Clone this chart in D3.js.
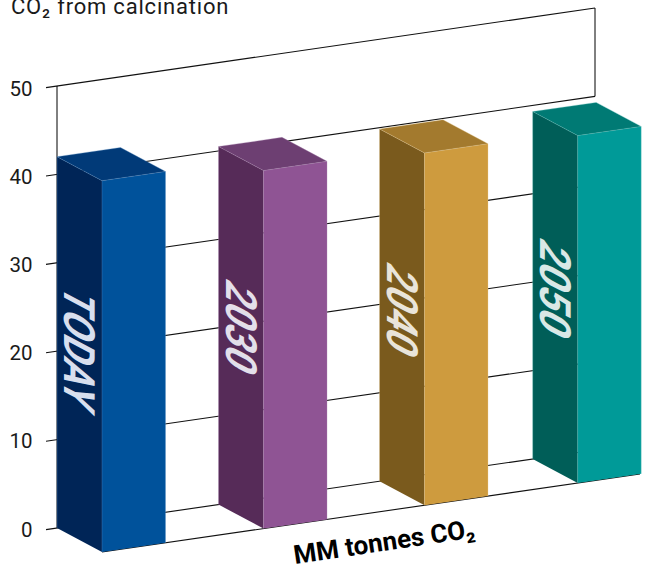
<!DOCTYPE html>
<html><head><meta charset="utf-8">
<script src="https://cdn.jsdelivr.net/npm/d3@7"></script>
<style>html,body{margin:0;background:#fff}svg{display:block}</style></head>
<body><svg id="c" width="645" height="565"></svg>
<script>
const categories = ["TODAY","2030","2040","2050"];
const values = [42.0, 40.5, 39.85, 39.3];
const yTicks = [0,10,20,30,40,50];
const frontColors = ["#00529b","#8f5494","#ce9b3e","#009a98"];
const sideColors = ["#002557","#562b58","#7a5a1d","#005e58"];
const topColors = ["#013a78","#6d3f72","#a37a2e","#007a74"];
const textColors = ["#d8dfee","#e3dfea","#e9e4da","#d9e8e6"];
const edgeColors = ["#5d8fc4","#b08ab5","#e8cd98","#6cc4c0"];
const titleText = "CO₂ from calcination";
const xLabel = "MM tonnes CO₂";

const svg = d3.select("#c");
const font = "'Roboto','DejaVu Sans',sans-serif";
const originX = 57, originY = 528, slope = -0.145, depthX = 45, depthY = 24, wallW = 538, barW = 63.5;
const y = d3.scaleLinear().domain([0,50]).range([0,442]);
const x = d3.scaleOrdinal().domain(categories).range([0,161.5,322.5,475.7]);
// wall coordinate u, depth d (0 back, 1 front), value v -> screen
const P = (u,d,v) => [originX+u+depthX*d, originY+slope*u+depthY*d-y(v)];
const line = pts => "M"+pts.map(p=>p.join(",")).join("L");

// back wall grid
svg.append("g").selectAll("line").data(yTicks).join("line")
  .attr("x1",-11+originX).attr("y1",v=>P(-11,0,v)[1])
  .attr("x2",originX+wallW).attr("y2",v=>P(wallW,0,v)[1])
  .attr("stroke","#111").attr("stroke-width",1.1);
// wall verticals
svg.append("path").attr("d",line([P(0,0,0),P(0,0,50)])).attr("stroke","#000").attr("fill","none").attr("stroke-width",1);
svg.append("path").attr("d",line([P(wallW,0,40),P(wallW,0,50)])).attr("stroke","#000").attr("fill","none").attr("stroke-width",1);
// floor front
svg.append("path").attr("d",line([P(0,1,0),P(wallW,1,0)])).attr("stroke","#111").attr("fill","none").attr("stroke-width",1.1);

// tick labels
const labelScale = d3.scaleLinear().domain([0,50]).range([529.5,88.5]);
const ax = svg.append("g").attr("transform","translate(32.5,0)")
  .call(d3.axisLeft(labelScale).tickValues(yTicks).tickSize(0).tickPadding(0));
ax.select(".domain").remove();
ax.selectAll("text").attr("font-family",font).attr("font-size",20.5).attr("fill","#1a1a1a");

// bars
const bars = svg.append("g").selectAll("g").data(categories).join("g");
bars.append("path").attr("d",(c,i)=>{const u=x(c),v=values[i];return line([P(u,0,0),P(u,1,0),P(u,1,v),P(u,0,v)])+"Z"})
  .attr("fill",(c,i)=>sideColors[i]);
bars.append("path").attr("d",(c,i)=>{const u=x(c),v=values[i];return line([P(u,1,0),P(u+barW,1,0),P(u+barW,1,v),P(u,1,v)])+"Z"})
  .attr("fill",(c,i)=>frontColors[i]);
bars.append("path").attr("d",(c,i)=>{const u=x(c),v=values[i];return line([P(u,0,v),P(u,1,v),P(u+barW,1,v),P(u+barW,0,v)])+"Z"})
  .attr("fill",(c,i)=>topColors[i]);
// thin lighter edges
bars.append("path").attr("d",(c,i)=>{const u=x(c),v=values[i];
  return line([P(u,0,0),P(u,0,v),P(u,1,v),P(u+barW,1,v),P(u+barW,1,0)])+line([P(u,1,v),P(u,1,0)])+line([P(u,0,v),P(u+barW,0,v),P(u+barW,1,v)]);})
  .attr("fill","none").attr("stroke",(c,i)=>edgeColors[i]).attr("stroke-width",0.6).attr("stroke-opacity",0.55);

// labels on side faces
const labelV = [21.5, 21.3, 20.6, 20.5];   // value height where the label is centred
const labelStretch = [0.86, 0.88, 0.87, 0.93];
bars.append("text").text(c=>c)
  .attr("text-anchor","middle")
  .attr("font-family","'Liberation Sans Narrow','Roboto',sans-serif")
  .attr("font-weight",700)
  .attr("font-size",43)
  .attr("fill",(c,i)=>textColors[i])
  .attr("transform",(c,i)=>{const p=P(x(c),0.5,labelV[i]);const s=labelStretch[i];
    return `matrix(0,${s},-1,-0.53,${p[0]-15.5},${p[1]-8})`;});

// title
svg.append("text").attr("x",11).attr("y",14).attr("font-family",font).attr("font-size",22).attr("letter-spacing",0.8).attr("fill","#1a1a1a").text(titleText);
// x label
svg.append("text").attr("transform","translate(295,564) rotate(-8.4)").attr("font-family",font).attr("font-weight",700).attr("font-size",26).attr("fill","#000").text(xLabel);
</script></body></html>
